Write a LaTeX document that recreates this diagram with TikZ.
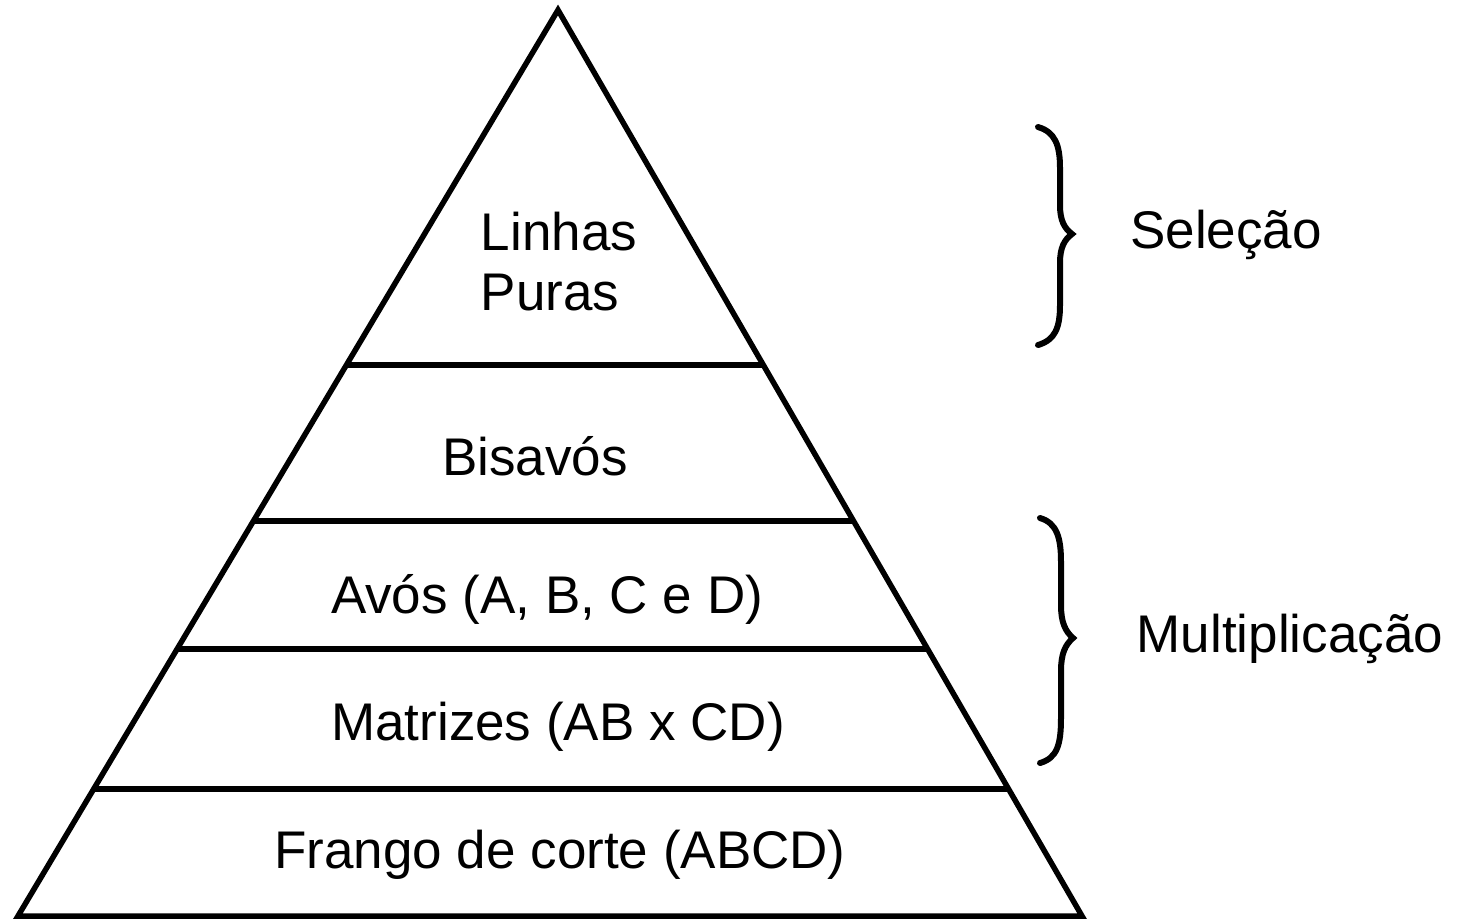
\documentclass[tikz,border=0pt]{standalone}
\usepackage{fontspec}
\setmainfont{Liberation Sans}
\usetikzlibrary{calc}
\begin{document}
\begin{tikzpicture}[x=1pt,y=-1pt,
  edge/.style={line width=5.5pt,black},
  bracepath/.style={line width=6pt,black,line cap=round},
  lbl/.style={font=\fontsize{53}{60}\selectfont,inner sep=0pt,text=black}]
\useasboundingbox (0,0) rectangle (1462,921);
\coordinate (apex) at (558,10);
\coordinate (bl) at (18,916);
\coordinate (br) at (1082,916);
\draw[edge,line join=miter] (apex) -- (bl) -- (br) -- cycle;
\foreach \t/\n in {0.3918/a,0.564/b,0.7053/c,0.8598/d}{
  \coordinate (L\n) at ($(apex)!\t!(bl)$);
  \coordinate (R\n) at ($(apex)!\t!(br)$);
  \draw[edge] (L\n) -- (R\n);
}
\node[lbl,align=left] (linhas) at (559,262) {Linhas\\Puras};
\node[lbl] (bisavos) at (535,456) {Bisavós};
\node[lbl] (avos) at (547,599) {Avós (A, B, C e D)};
\node[lbl] (matrizes) at (558,727) {Matrizes (AB x CD)};
\node[lbl] (frango) at (560,855) {Frango de corte (ABCD)};
\node[lbl] (selecao) at (1226,235) {Seleção};
\node[lbl] (mult) at (1290,639) {Multiplicação};
% braces
\draw[bracepath] (1038,127) .. controls (1055,132) and (1060,145) .. (1060,168)
  -- (1060,205) .. controls (1060,220) and (1064,228) .. (1072,234)
  .. controls (1064,240) and (1060,248) .. (1060,263)
  -- (1060,305) .. controls (1060,328) and (1055,340) .. (1038,345);
\draw[bracepath] (1040,518) .. controls (1057,523) and (1061,538) .. (1061,562)
  -- (1061,605) .. controls (1061,622) and (1065,631) .. (1073,638)
  .. controls (1065,645) and (1061,654) .. (1061,671)
  -- (1061,718) .. controls (1061,745) and (1057,758) .. (1040,763);
\end{tikzpicture}
\end{document}
